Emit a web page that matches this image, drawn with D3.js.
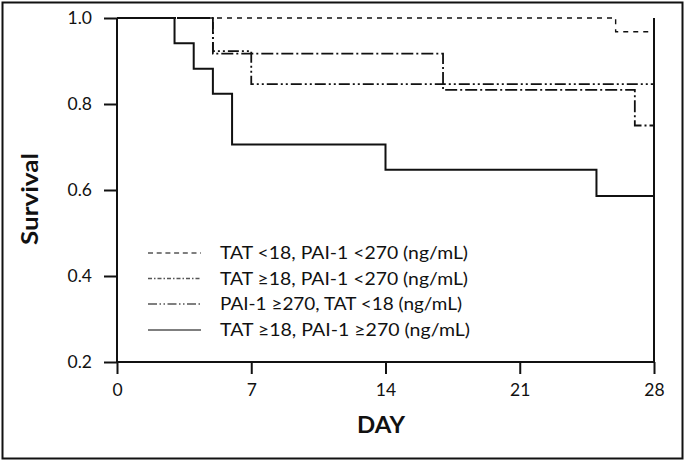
<!DOCTYPE html>
<html><head><meta charset="utf-8">
<script src="https://cdn.jsdelivr.net/npm/d3@7"></script>
<style>body{margin:0;background:#fff}svg{display:block}</style>
</head><body>
<script>
const seriesNames = ["TAT <18, PAI-1 <270 (ng/mL)", "TAT \u226518, PAI-1 <270 (ng/mL)", "PAI-1 \u2265270, TAT <18 (ng/mL)", "TAT \u226518, PAI-1 \u2265270 (ng/mL)"];
const s1Days = [0, 26, 28];
const s1Surv = [1.0, 0.968, 0.968];
const s2Days = [0, 5, 17, 27, 28];
const s2Surv = [1.0, 0.917, 0.833, 0.75, 0.75];
const s3Days = [0, 5, 7, 28];
const s3Surv = [1.0, 0.923, 0.846, 0.846];
const s4Days = [0, 3, 4, 5, 6, 14, 25, 28];
const s4Surv = [1.0, 0.941, 0.882, 0.824, 0.706, 0.647, 0.586, 0.586];
const xTicks = [0, 7, 14, 21, 28];
const yTicks = [0.2, 0.4, 0.6, 0.8, 1.0];
const dashes = ["5,5", "12,3,2,3", "11,3,2,3,2,3", null];
const widths = [1.4, 1.8, 1.8, 2];

const W = 685, H = 462;
const svg = d3.select("body").append("svg").attr("width", W).attr("height", H);
svg.append("rect").attr("x", 2.5).attr("y", 2.5).attr("width", 680).attr("height", 456)
  .attr("fill", "none").attr("stroke", "#111").attr("stroke-width", 2);

const x = d3.scaleLinear().domain([0, 28]).range([117, 654]);
const y = d3.scaleLinear().domain([0.2, 1.0]).range([362, 18]);
const font = "Lato, sans-serif";

const series = [[s1Days, s1Surv], [s2Days, s2Surv], [s3Days, s3Surv], [s4Days, s4Surv]];
const line = d3.line().x(d => x(d[0])).y(d => y(d[1])).curve(d3.curveStepAfter);
series.forEach((s, i) => {
  const pts = s[0].map((d, j) => [d, s[1][j]]);
  svg.append("path").attr("d", line(pts)).attr("fill", "none")
    .attr("stroke", "#111").attr("stroke-width", widths[i])
    .attr("stroke-dasharray", dashes[i]);
});
svg.append("line").attr("x1", x(28)).attr("x2", x(28)).attr("y1", y(1.0)).attr("y2", y(0.2))
  .attr("stroke", "#111").attr("stroke-width", 2);

const xAxis = svg.append("g").attr("transform", `translate(0,${y(0.2)})`)
  .call(d3.axisBottom(x).tickValues(xTicks).tickSize(12).tickPadding(10));
const yAxis = svg.append("g").attr("transform", `translate(${x(0)},0)`)
  .call(d3.axisLeft(y).tickValues(yTicks).tickSize(13).tickPadding(12).tickFormat(d3.format(".1f")));
[xAxis, yAxis].forEach(g => {
  g.select(".domain").attr("stroke", "#111").attr("stroke-width", 2);
  g.selectAll(".tick line").attr("stroke", "#111").attr("stroke-width", 2);
  g.selectAll("text").attr("font-family", font).attr("font-size", 17.5).attr("fill", "#111");
});
xAxis.select(".domain").attr("d", `M${x(0)},0H${x(28)}`);
yAxis.select(".domain").attr("d", `M0,${y(0.2)}V${y(1.0)}`);

svg.append("text").attr("x", 381).attr("y", 433).attr("text-anchor", "middle")
  .attr("font-family", font).attr("font-weight", "bold").attr("font-size", 22)
  .attr("textLength", 48).attr("lengthAdjust", "spacingAndGlyphs").attr("fill", "#111").text("DAY");
svg.append("text").attr("transform", "translate(38,199) rotate(-90)").attr("text-anchor", "middle")
  .attr("font-family", font).attr("font-weight", "bold").attr("font-size", 22)
  .attr("textLength", 92).attr("lengthAdjust", "spacingAndGlyphs").attr("fill", "#111").text("Survival");

const legY = [253, 278.5, 304, 330];
const legDash = ["5,3.7", "4,2,1.5,2", "9,2.5,1.5,2.5,1.5,2.5", null];
const legLen = [248, 248, 242, 250];
seriesNames.forEach((n, i) => {
  svg.append("line").attr("x1", 148).attr("x2", 201).attr("y1", legY[i]).attr("y2", legY[i])
    .attr("stroke", "#555").attr("stroke-width", i === 3 ? 1.6 : 1.3).attr("stroke-dasharray", legDash[i]);
  svg.append("text").attr("x", 220).attr("y", legY[i] + 6).attr("font-family", font)
    .attr("font-size", 17).attr("textLength", legLen[i]).attr("lengthAdjust", "spacingAndGlyphs")
    .attr("fill", "#111").text(n);
});
</script>
</body></html>
